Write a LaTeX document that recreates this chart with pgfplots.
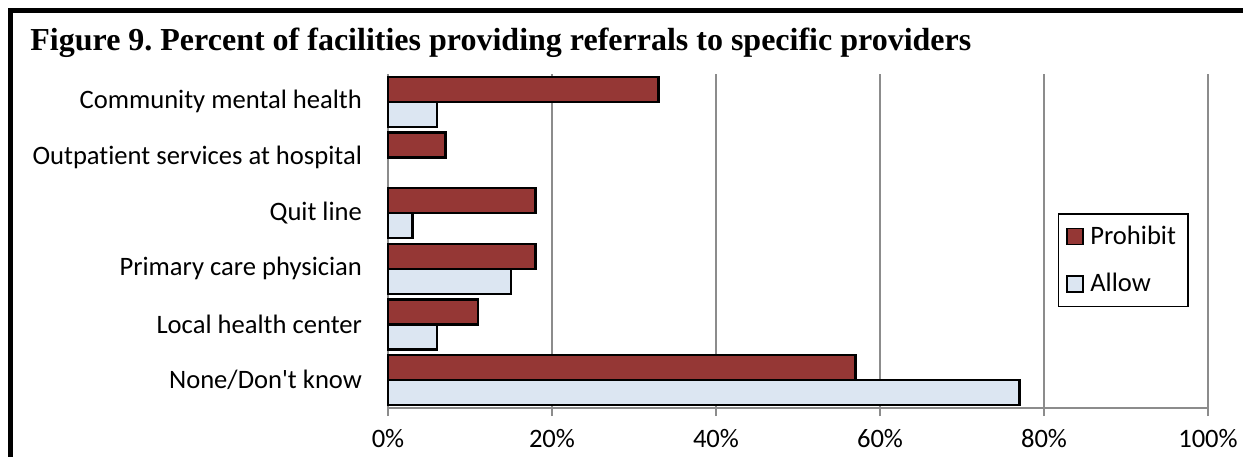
\documentclass[border=0pt]{standalone}
\usepackage{fontspec}
\setmainfont{Liberation Serif}
\newfontfamily\calibri[Ligatures=NoCommon]{Carlito}
\usepackage{pgfplots}
\pgfplotsset{compat=1.18}
\definecolor{prohibit}{HTML}{953735}
\definecolor{allow}{HTML}{DCE6F2}
\definecolor{gridgray}{HTML}{8C8C8C}
\frenchspacing
\begin{document}
\begin{tikzpicture}
\useasboundingbox (0,0) rectangle (621.5pt,228.5pt);
\draw[line width=2.6pt] (4pt,223.25pt) -- (621.5pt,223.25pt);
\draw[line width=2.6pt] (5.4pt,224.5pt) -- (5.4pt,0pt);
\node[anchor=base west, font=\bfseries\fontsize{16}{18}\selectfont, inner sep=0pt] at (15pt,203.5pt) {Figure 9. Percent of facilities providing referrals to specific providers};
\begin{axis}[
  at={(194pt,24.5pt)}, anchor=south west, scale only axis,
  width=410pt, height=167pt,
  xmin=0, xmax=100, ymin=-0.5, ymax=5.5,
  xbar, bar width=12.5pt,
  axis x line=bottom, axis y line=left,
  axis line style={draw=gridgray, line width=0.6pt, -},
  xmajorgrids, grid style={draw=gridgray, line width=0.6pt},
  xtick={0,20,40,60,80,100},
  xticklabels={0\%,20\%,40\%,60\%,80\%,100\%},
  tick align=outside, major tick length=4pt,
  x tick style={draw=gridgray, line width=0.6pt},
  y tick style={draw=none},
  ytick={0,1,2,3,4,5},
  yticklabels={None/Don\textquotesingle t know, Local health center, Primary care physician, Quit line, Outpatient services at hospital, Community mental health},
  tick label style={font=\calibri\fontsize{13.3}{16}\selectfont},
  xticklabel style={yshift=-3pt},
  yticklabel style={xshift=-5.5pt},
  legend style={at={(0.8165,0.584)}, anchor=north west, draw=black, line width=0.8pt,
    font=\calibri\fontsize{13.3}{16}\selectfont, row sep=9pt, inner xsep=4pt, inner ysep=4pt,
    cells={anchor=west}},
  legend image code/.code={\draw[#1, line width=0.8pt] (1pt,-4pt) rectangle (9pt,4pt); \path (10pt,0pt);},
  clip=false,
]
\addplot[fill=prohibit, draw=black, line width=1.2pt, bar shift=6.25pt] coordinates {
  (57,0) (11,1) (18,2) (18,3) (7,4) (33,5)};
\addplot[fill=allow, draw=black, line width=1.2pt, bar shift=-6.25pt] coordinates {
  (77,0) (6,1) (15,2) (3,3) (6,5)};
\legend{Prohibit, Allow}
\end{axis}
\end{tikzpicture}
\end{document}
